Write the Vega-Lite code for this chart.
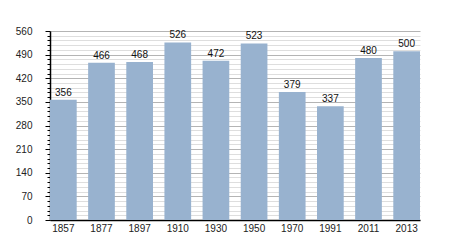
{
  "$schema": "https://vega.github.io/schema/vega-lite/v6.json",
  "width": 370,
  "height": 189,
  "autosize": {"type": "none"},
  "padding": {"left": 50, "top": 31, "right": 30, "bottom": 30},
  "background": "white",
  "config": {
    "view": {"stroke": null},
    "font": "Liberation Sans",
    "axis": {"labelFont": "Liberation Sans", "labelFontSize": 10, "labelColor": "#222"}
  },
  "data": {
    "values": [
      {"year": "1857", "pop": 356},
      {"year": "1877", "pop": 466},
      {"year": "1897", "pop": 468},
      {"year": "1910", "pop": 526},
      {"year": "1930", "pop": 472},
      {"year": "1950", "pop": 523},
      {"year": "1970", "pop": 379},
      {"year": "1991", "pop": 337},
      {"year": "2011", "pop": 480},
      {"year": "2013", "pop": 500}
    ]
  },
  "encoding": {
    "x": {
      "field": "year",
      "type": "ordinal",
      "sort": null,
      "scale": {"paddingInner": 0.3, "paddingOuter": 0},
      "axis": {
        "title": null,
        "labelAngle": 0,
        "ticks": false,
        "domainColor": "#000",
        "domainWidth": 1.5,
        "labelPadding": 3,
        "grid": false
      }
    },
    "y": {
      "field": "pop",
      "type": "quantitative",
      "scale": {"domain": [0, 560], "nice": false},
      "axis": {
        "title": null,
        "values": [0,14,28,42,56,70,84,98,112,126,140,154,168,182,196,210,224,238,252,266,280,294,308,322,336,350,364,378,392,406,420,434,448,462,476,490,504,518,532,546,560],
        "labelExpr": "datum.value % 70 === 0 ? datum.label : ''",
        "grid": true,
        "gridColor": {"condition": {"test": "datum.value % 70 === 0", "value": "#b4b4b4"}, "value": "#dedede"},
        "gridWidth": 1,
        "tickColor": "#000",
        "tickSize": {"condition": {"test": "datum.value % 70 === 0", "value": 5}, "value": 3},
        "domainColor": "#000",
        "domainWidth": 1.5,
        "labelPadding": 13,
        "labelFlush": false
      }
    }
  },
  "layer": [
    {"mark": {"type": "bar", "color": "#98b2cf"}},
    {
      "mark": {"type": "text", "dy": -7, "fontSize": 10, "color": "#111", "font": "Liberation Sans"},
      "encoding": {"text": {"field": "pop", "type": "quantitative"}}
    }
  ]
}
